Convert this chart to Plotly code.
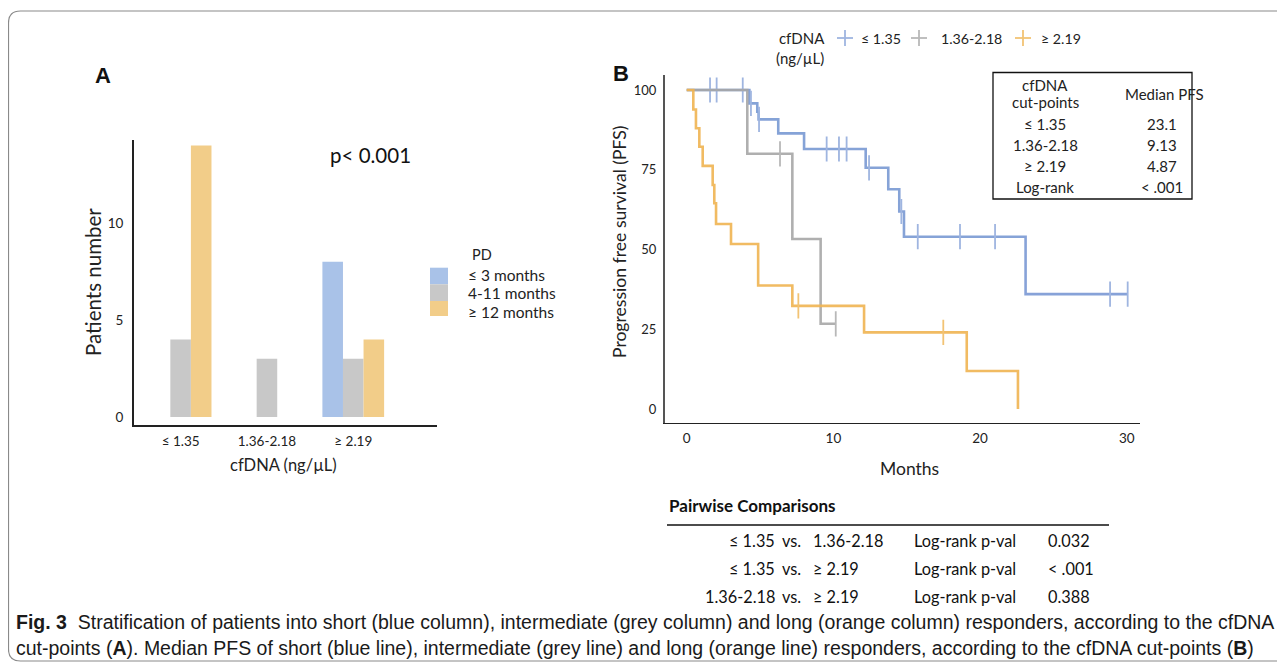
import plotly.graph_objects as go

# the page body adds an 8px offset; the figure is sized to fit the window after it
OFF = 8
W, H = 1285 - OFF, 666 - OFF

# ---------------- Panel A data ----------------
categories = ["≤ 1.35", "1.36-2.18", "≥ 2.19"]
pd_groups = ["≤ 3 months", "4-11 months", "≥ 12 months"]
short_pd = [0, 0, 8]
intermediate_pd = [4, 3, 3]
long_pd = [14, 0, 4]
bar_colors = ["#a9c2e8", "#c8c8c8", "#f2cd89"]
a_yticks = [0, 5, 10]

# ---------------- Panel B data ----------------
km_groups = ["≤ 1.35", "1.36-2.18", "≥ 2.19"]
blue_t = [0, 4.27, 4.81, 4.90, 6.24, 8.0, 12.2, 13.74, 14.49, 14.81, 23.1, 30.06]
blue_s = [100, 95.8, 93.2, 90.8, 86.4, 81.5, 75.6, 68.9, 61.9, 54.0, 36.0, 36.0]
blue_cens = [1.59, 2.04, 3.82, 4.38, 4.93, 9.54, 10.38, 10.9, 12.43, 14.63,
             15.75, 18.63, 21.02, 28.86, 30.06]
grey_t = [0, 4.13, 7.2, 9.13, 10.16]
grey_s = [100, 80.0, 53.3, 26.7, 26.7]
grey_cens = [6.36, 10.16]
orange_t = [0, 0.45, 0.63, 0.86, 1.09, 1.77, 1.88, 2.0, 3.02, 4.87, 7.2, 12.09, 19.09, 22.58]
orange_s = [100, 93.9, 88.0, 82.2, 76.2, 70.2, 64.5, 58.0, 51.7, 38.7, 32.3, 24.0, 11.9, 0]
orange_cens = [7.61, 17.49]
line_colors = ["#7b99d4", "#a8a8a8", "#f0b452"]
tick_colors = ["#9fb5e0", "#b8b8b8", "#f2c374"]
b_xticks = [0, 10, 20, 30]
b_yticks = [0, 25, 50, 75, 100]

table_groups = ["≤ 1.35", "1.36-2.18", "≥ 2.19", "Log-rank"]
median_pfs = ["23.1", "9.13", "4.87", "< .001"]
pair_left = ["≤ 1.35", "≤ 1.35", "1.36-2.18"]
pair_right = ["1.36-2.18", "≥ 2.19", "≥ 2.19"]
pair_p = ["0.032", "< .001", "0.388"]

FONT = "Lato"


def px(x):
    return (x - OFF) / W


def py(y):
    return 1 - (y - OFF) / H


def step_value(t, ts, ss):
    v = ss[0]
    for ti, si in zip(ts, ss):
        if ti <= t:
            v = si
    return v


fig = go.Figure()

# ---- Panel A bars ----
for name, vals, col in zip(pd_groups, [short_pd, intermediate_pd, long_pd], bar_colors):
    fig.add_trace(go.Bar(x=categories, y=vals, name=name, marker_color=col,
                         marker_line_width=0, xaxis="x", yaxis="y", showlegend=False))

# ---- Panel B KM curves ----
curves = [(blue_t, blue_s, blue_cens), (grey_t, grey_s, grey_cens), (orange_t, orange_s, orange_cens)]
for (ts, ss, cs), name, lc, tc in zip(curves, km_groups, line_colors, tick_colors):
    fig.add_trace(go.Scatter(x=ts, y=ss, mode="lines", line=dict(color=lc, width=2.6, shape="hv"),
                             opacity=0.9, name=name, xaxis="x2", yaxis="y2", showlegend=False))
    fig.add_trace(go.Scatter(x=cs, y=[step_value(c, ts, ss) for c in cs], mode="markers",
                             marker=dict(symbol="line-ns", size=18, line=dict(color=tc, width=1.8)),
                             xaxis="x2", yaxis="y2", showlegend=False))

shapes = []
ann = []

# outer rounded border (open at right)
r = 12
x0, y0, y1 = 8.5, 11, 661
path = (f"M {px(1300)},{py(y0)} L {px(x0 + r)},{py(y0)} Q {px(x0)},{py(y0)} {px(x0)},{py(y0 + r)} "
        f"L {px(x0)},{py(y1 - r)} Q {px(x0)},{py(y1)} {px(x0 + r)},{py(y1)} L {px(1300)},{py(y1)}")
shapes.append(dict(type="path", path=path, xref="paper", yref="paper",
                   line=dict(color="#8a8a8a", width=1.2)))

# Panel labels
ann.append(dict(text="<b>A</b>", x=px(103), y=py(75), font=dict(size=22, family="Liberation Sans", color="#111")))
ann.append(dict(text="<b>B</b>", x=px(621), y=py(73), font=dict(size=22, family="Liberation Sans", color="#111")))

# Panel A texts
ann.append(dict(text="p< 0.001", x=px(370), y=py(155), font=dict(size=20.5, color="#111")))
ann.append(dict(text="Patients number", x=px(93), y=py(282), textangle=-90, font=dict(size=20.5, color="#222")))
ann.append(dict(text="cfDNA (ng/µL)", x=px(283), y=py(465), font=dict(size=16.5, color="#222")))

# Panel A legend (manual)
ann.append(dict(text="PD", x=px(470), y=py(254), xanchor="left", font=dict(size=14.5, color="#222")))
sw_tops = [267.7, 284.3, 301]
sw_bots = [284.3, 301, 316]
text_y = [275, 293.5, 312]
for name, col, t0, t1, ty in zip(pd_groups, bar_colors, sw_tops, sw_bots, text_y):
    shapes.append(dict(type="rect", xref="paper", yref="paper", x0=px(430), x1=px(448),
                       y0=py(t1), y1=py(t0), fillcolor=col, line=dict(width=0)))
    ann.append(dict(text=name, x=px(466), y=py(ty), xanchor="left", font=dict(size=15.5, color="#222")))

# Panel B texts
ann.append(dict(text="Progression free survival (PFS)", x=px(619), y=py(242), textangle=-90,
                font=dict(size=17.6, color="#222")))
ann.append(dict(text="Months", x=px(909), y=py(468), font=dict(size=17.5, color="#222")))

# Panel B legend (manual)
ann.append(dict(text="cfDNA<br>(ng/µL)", x=px(827), y=py(48), xanchor="right", align="right",
                font=dict(size=15, color="#222")))
leg_x = [845, 919, 1023]
leg_tx = [859, 939, 1039]
for name, tc, lx, tx in zip(km_groups, tick_colors, leg_x, leg_tx):
    shapes.append(dict(type="line", xref="paper", yref="paper", x0=px(lx - 8), x1=px(lx + 8),
                       y0=py(38), y1=py(38), line=dict(color=tc, width=1.8)))
    shapes.append(dict(type="line", xref="paper", yref="paper", x0=px(lx), x1=px(lx),
                       y0=py(30), y1=py(46), line=dict(color=tc, width=1.8)))
    ann.append(dict(text=name, x=px(tx), y=py(38), xanchor="left", font=dict(size=14.2, color="#222")))

# Median PFS table
shapes.append(dict(type="rect", xref="paper", yref="paper", x0=px(993), x1=px(1192),
                   y0=py(199), y1=py(72.5), line=dict(color="#111", width=1.3)))
ann.append(dict(text="cfDNA", x=px(1045), y=py(85), font=dict(size=15, color="#222")))
ann.append(dict(text="cut-points", x=px(1045), y=py(102), font=dict(size=15, color="#222")))
ann.append(dict(text="Median PFS", x=px(1164), y=py(94), font=dict(size=15, color="#222")))
row_y = [124, 145, 166, 187.5]
for g, m, ry in zip(table_groups, median_pfs, row_y):
    ann.append(dict(text=g, x=px(1045), y=py(ry), font=dict(size=15, color="#222")))
    ann.append(dict(text=m, x=px(1162), y=py(ry), font=dict(size=15, color="#222")))

# Pairwise comparisons
ann.append(dict(text="<b>Pairwise Comparisons</b>", x=px(667), y=py(505), xanchor="left",
                font=dict(size=17, color="#111")))
shapes.append(dict(type="line", xref="paper", yref="paper", x0=px(667), x1=px(1109),
                   y0=py(525), y1=py(525), line=dict(color="#111", width=1.3)))
pr_y = [540, 568, 596]
PF = 16.3
for l, rr, p, ry in zip(pair_left, pair_right, pair_p, pr_y):
    ann.append(dict(text=l, x=px(777), y=py(ry), xanchor="right", font=dict(size=PF, color="#111")))
    ann.append(dict(text="vs.", x=px(780), y=py(ry), xanchor="left", font=dict(size=PF, color="#111")))
    ann.append(dict(text=rr, x=px(811), y=py(ry), xanchor="left", font=dict(size=PF, color="#111")))
    ann.append(dict(text="Log-rank p-val", x=px(912), y=py(ry), xanchor="left", font=dict(size=PF, color="#111")))
    ann.append(dict(text=p, x=px(1046), y=py(ry), xanchor="left", font=dict(size=PF, color="#111")))

# Caption
cap1 = ("<b>Fig. 3</b>&nbsp;&nbsp;Stratification of patients into short (blue column), intermediate (grey column) "
        "and long (orange column) responders, according to the cfDNA")
cap2 = ("cut-points (<b>A</b>). Median PFS of short (blue line), intermediate (grey line) and long (orange line) "
        "responders, according to the cfDNA cut-points (<b>B</b>)")
ann.append(dict(text=cap1, x=px(14), y=py(622), xanchor="left",
                font=dict(size=19.5, family="Liberation Sans", color="#1a1a1a")))
ann.append(dict(text=cap2, x=px(14), y=py(648), xanchor="left",
                font=dict(size=19.5, family="Liberation Sans", color="#1a1a1a")))

for a in ann:
    a.setdefault("xref", "paper")
    a.setdefault("yref", "paper")
    a.setdefault("showarrow", False)
    a.setdefault("yanchor", "middle")
    a.setdefault("xanchor", "center")

fig.update_layout(
    width=W, height=H, margin=dict(l=0, r=0, t=0, b=0),
    paper_bgcolor="white", plot_bgcolor="white",
    font=dict(family=FONT, color="#222"),
    barmode="group", bargap=0.285, bargroupgap=0,
    xaxis=dict(domain=[px(134), px(437)], range=[-0.54, 2.97], type="category",
               showline=True, linecolor="#222", linewidth=1.8, ticks="", showgrid=False,
               tickfont=dict(size=13.5, color="#222"), ticklabelstandoff=3, anchor="y"),
    yaxis=dict(domain=[py(425), py(140)], range=[-0.41, 14.28], tickvals=a_yticks,
               showline=True, linecolor="#222", linewidth=1.8, ticks="", showgrid=False,
               zeroline=False, tickfont=dict(size=13.5, color="#222"), ticklabelstandoff=6, anchor="x"),
    xaxis2=dict(domain=[px(665), px(1140)], range=[-1.48, 30.9], tickvals=b_xticks,
                showline=True, linecolor="#222", linewidth=1.2, ticks="", showgrid=False,
                zeroline=False, tickfont=dict(size=13.5, color="#222"), ticklabelstandoff=2, anchor="y2"),
    yaxis2=dict(domain=[py(423.3), py(75)], range=[-4.5, 104.7], tickvals=b_yticks,
                showline=True, linecolor="#555", linewidth=2, ticks="", showgrid=False,
                zeroline=False, tickfont=dict(size=13, color="#222"), ticklabelstandoff=4, anchor="x2"),
    shapes=shapes, annotations=ann,
)

fig.write_html("out.html")
